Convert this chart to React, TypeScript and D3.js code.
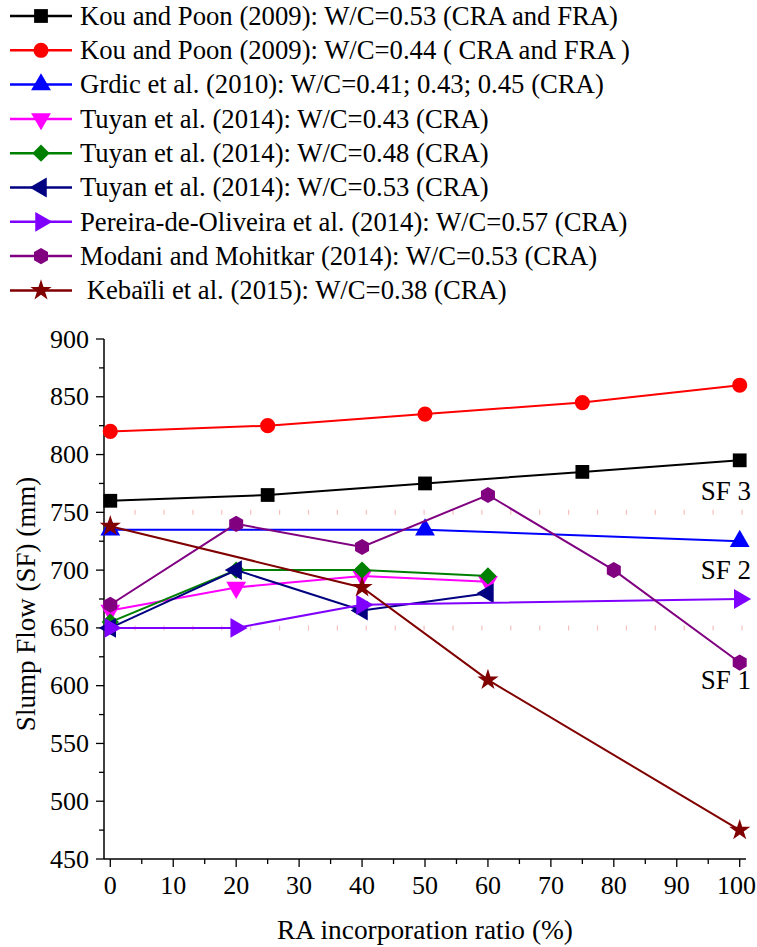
import React from "react";
import * as d3 from "d3";

const seriesNames = [
  "Kou and Poon (2009): W/C=0.53 (CRA and FRA)",
  "Kou and Poon (2009): W/C=0.44 ( CRA and FRA )",
  "Grdic et al. (2010): W/C=0.41; 0.43; 0.45 (CRA)",
  "Tuyan et al. (2014): W/C=0.43 (CRA)",
  "Tuyan et al. (2014): W/C=0.48 (CRA)",
  "Tuyan et al. (2014): W/C=0.53 (CRA)",
  "Pereira-de-Oliveira et al. (2014): W/C=0.57 (CRA)",
  "Modani and Mohitkar (2014): W/C=0.53 (CRA)",
  " Kebaïli et al. (2015): W/C=0.38 (CRA)",
];
const seriesColors = ["#000000", "#ff0000", "#0000ff", "#ff00ff", "#008000", "#000080", "#8000ff", "#800080", "#800000"];
const seriesMarkers = ["square", "circle", "triUp", "triDown", "diamond", "triLeft", "triRight", "hexagon", "star"];

const kou053X = [0, 25, 50, 75, 100];
const kou053Y = [760, 765, 775, 785, 795];
const kou044X = [0, 25, 50, 75, 100];
const kou044Y = [820, 825, 835, 845, 860];
const grdicX = [0, 50, 100];
const grdicY = [735, 735, 725];
const tuyan043X = [0, 20, 40, 60];
const tuyan043Y = [665, 685, 695, 690];
const tuyan048X = [0, 20, 40, 60];
const tuyan048Y = [655, 700, 700, 695];
const tuyan053X = [0, 20, 40, 60];
const tuyan053Y = [650, 700, 665, 680];
const pereiraX = [0, 20, 40, 100];
const pereiraY = [650, 650, 670, 675];
const modaniX = [0, 20, 40, 60, 80, 100];
const modaniY = [670, 740, 720, 765, 700, 620];
const kebailiX = [0, 40, 60, 100];
const kebailiY = [738, 685, 605, 475];

const seriesX = [kou053X, kou044X, grdicX, tuyan043X, tuyan048X, tuyan053X, pereiraX, modaniX, kebailiX];
const seriesY = [kou053Y, kou044Y, grdicY, tuyan043Y, tuyan048Y, tuyan053Y, pereiraY, modaniY, kebailiY];

const xTicks = [0, 10, 20, 30, 40, 50, 60, 70, 80, 90, 100];
const yTicks = [450, 500, 550, 600, 650, 700, 750, 800, 850, 900];
const sfBoundaries = [750, 650];
const sfLabels = [
  { text: "SF 3", value: 768 },
  { text: "SF 2", value: 700 },
  { text: "SF 1", value: 605 },
];

const FONT = "'Liberation Serif', 'Times New Roman', serif";

const hexagon = {
  draw(ctx: any, size: number) {
    const r = Math.sqrt((size * 2) / (3 * Math.sqrt(3)));
    for (let i = 0; i < 6; i++) {
      const a = (-90 + 60 * i) * (Math.PI / 180);
      const px = r * Math.cos(a);
      const py = r * Math.sin(a);
      if (i === 0) ctx.moveTo(px, py);
      else ctx.lineTo(px, py);
    }
    ctx.closePath();
  },
};

function markerPath(kind: string): { d: string; rot: number } {
  switch (kind) {
    case "square":
      return { d: d3.symbol(d3.symbolSquare, 190)()!, rot: 0 };
    case "circle":
      return { d: d3.symbol(d3.symbolCircle, 180)()!, rot: 0 };
    case "triUp":
      return { d: d3.symbol(d3.symbolTriangle, 170)()!, rot: 0 };
    case "triDown":
      return { d: d3.symbol(d3.symbolTriangle, 170)()!, rot: 180 };
    case "triLeft":
      return { d: d3.symbol(d3.symbolTriangle, 170)()!, rot: -90 };
    case "triRight":
      return { d: d3.symbol(d3.symbolTriangle, 170)()!, rot: 90 };
    case "diamond":
      return { d: d3.symbol(d3.symbolSquare, 150)()!, rot: 45 };
    case "hexagon":
      return { d: d3.symbol(hexagon as any, 170)()!, rot: 0 };
    case "star":
      return { d: d3.symbol(d3.symbolStar, 140)()!, rot: 0 };
  }
  return { d: "", rot: 0 };
}

export default function App() {
  const W = 757;
  const H = 947;
  const left = 104;
  const right = 746;
  const top = 339;
  const bottom = 859;

  const x = d3.scaleLinear().domain([-1, 101]).range([left, right]);
  const y = d3.scaleLinear().domain([450, 900]).range([bottom, top]);
  const line = d3
    .line<[number, number]>()
    .x((d) => x(d[0]))
    .y((d) => y(d[1]));

  const xMinor = d3.range(0, 101, 5);
  const yMinor = d3.range(450, 901, 25);

  const legendTop = 16;
  const legendStep = 34.3;

  return (
    <svg
      width={W}
      height={H}
      style={{ position: "absolute", left: 0, top: 0, background: "#fff" }}
      fontFamily={FONT}
    >
      <rect x={0} y={0} width={W} height={H} fill="#fff" />

      {/* Legend */}
      {seriesNames.map((name, i) => {
        const cy = legendTop + i * legendStep;
        const m = markerPath(seriesMarkers[i]);
        return (
          <g key={"lg" + i}>
            <line x1={10} x2={72} y1={cy} y2={cy} stroke={seriesColors[i]} strokeWidth={2.5} />
            <path d={m.d} transform={`translate(41,${cy}) rotate(${m.rot})`} fill={seriesColors[i]} />
            <text x={80} y={cy} dy="0.33em" fontSize={26.7} fill="#000" style={{ whiteSpace: "pre" }}>
              {name}
            </text>
          </g>
        );
      })}

      {/* SF boundary dashes */}
      {sfBoundaries.map((v) => (
        <line
          key={"sf" + v}
          x1={134.5}
          x2={746}
          y1={y(v)}
          y2={y(v)}
          stroke="#f7c0c0"
          strokeWidth={5}
          strokeDasharray="1.2 27.7"
        />
      ))}

      {/* Axes */}
      <line x1={left} x2={left} y1={top} y2={bottom} stroke="#000" strokeWidth={1.5} />
      <line x1={left} x2={right} y1={bottom} y2={bottom} stroke="#000" strokeWidth={1.5} />
      {yMinor.map((v) => (
        <line
          key={"ym" + v}
          x1={left}
          x2={left - (v % 50 === 0 ? 8 : 5)}
          y1={y(v)}
          y2={y(v)}
          stroke="#000"
          strokeWidth={1.3}
        />
      ))}
      {xMinor.map((v) => (
        <line
          key={"xm" + v}
          x1={x(v)}
          x2={x(v)}
          y1={bottom}
          y2={bottom + (v % 10 === 0 ? 8 : 5)}
          stroke="#000"
          strokeWidth={1.3}
        />
      ))}
      {yTicks.map((v) => (
        <text key={"yt" + v} x={left - 15} y={y(v)} dy="0.33em" textAnchor="end" fontSize={26}>
          {v}
        </text>
      ))}
      {xTicks.map((v) => (
        <text
          key={"xt" + v}
          x={Math.min(x(v), W - 20.5)}
          y={bottom + 35}
          textAnchor="middle"
          fontSize={26}
        >
          {v}
        </text>
      ))}
      <text
        transform={`translate(35,${(top + bottom) / 2 + 5}) rotate(-90)`}
        textAnchor="middle"
        fontSize={27}
      >
        Slump Flow (SF) (mm)
      </text>
      <text x={(left + right) / 2} y={939} textAnchor="middle" fontSize={27.4}>
        RA incorporation ratio (%)
      </text>

      {/* SF labels */}
      {sfLabels.map((s) => (
        <text key={s.text} x={751} y={y(s.value)} dy="0.33em" textAnchor="end" fontSize={27}>
          {s.text}
        </text>
      ))}

      {/* Series */}
      {seriesNames.map((_, i) => {
        const pts: [number, number][] = seriesX[i].map((xv, j) => [xv, seriesY[i][j]]);
        const m = markerPath(seriesMarkers[i]);
        return (
          <g key={"s" + i}>
            <path d={line(pts)!} fill="none" stroke={seriesColors[i]} strokeWidth={2} />
            {pts.map((p, j) => (
              <path
                key={j}
                d={m.d}
                transform={`translate(${x(p[0])},${y(p[1])}) rotate(${m.rot})`}
                fill={seriesColors[i]}
              />
            ))}
          </g>
        );
      })}
    </svg>
  );
}
